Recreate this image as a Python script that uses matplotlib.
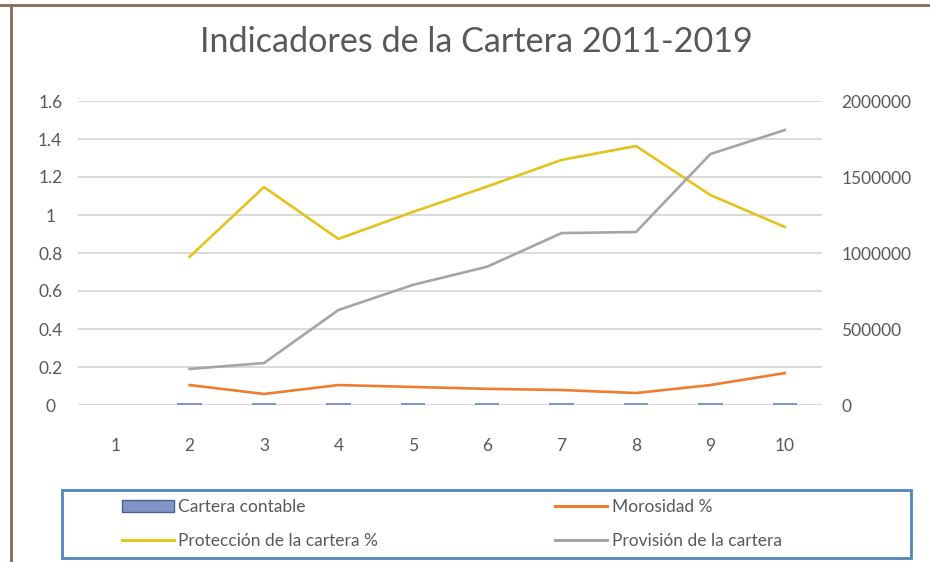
import matplotlib.pyplot as plt
import matplotlib.patches as mpatches
from matplotlib.lines import Line2D
from matplotlib.ticker import FuncFormatter
import numpy as np

plt.rcParams['font.family'] = ['Lato', 'DejaVu Sans']

periodos = [1, 2, 3, 4, 5, 6, 7, 8, 9, 10]
cartera_contable = [np.nan, 0.01, 0.01, 0.01, 0.01, 0.01, 0.01, 0.01, 0.01, 0.01]
morosidad = [np.nan, 0.105, 0.058, 0.105, 0.095, 0.085, 0.079, 0.063, 0.105, 0.168]
proteccion = [np.nan, 0.78, 1.147, 0.874, 1.016, 1.15, 1.29, 1.363, 1.105, 0.937]
provision = [np.nan, 237000, 276000, 625000, 790000, 910000, 1131000, 1138000, 1651000, 1809000]

gris_texto = '#595959'
c_barra = '#7f95c8'
c_moros = '#ED7D31'
c_prot = '#E3C41C'
c_prov = '#A5A5A5'

fig = plt.figure(figsize=(9.3, 5.62), dpi=100)
ax = fig.add_axes([78/930, 1-405/562, 744/930, 304/562])
ax2 = ax.twinx()

ax.bar(periodos, cartera_contable, width=0.33, color=c_barra, zorder=3)
ax.plot(periodos, morosidad, color=c_moros, lw=1.9, zorder=4)
ax.plot(periodos, proteccion, color=c_prot, lw=1.9, zorder=4)
ax2.plot(periodos, provision, color=c_prov, lw=1.9, zorder=4)

ax.set_xlim(0.5, 10.5)
ax.set_ylim(0, 1.6)
ax.set_yticks(np.arange(0, 1.61, 0.2))
ax.yaxis.set_major_formatter(FuncFormatter(lambda v, p: '0' if v == 0 else ('%g' % round(v, 1))))
ax2.set_ylim(0, 2000000)
ax2.set_yticks([0, 500000, 1000000, 1500000, 2000000])
ax2.yaxis.set_major_formatter(FuncFormatter(lambda v, p: '%d' % v))
ax.set_xticks(periodos)

ax.grid(axis='y', color='#D9D9D9', lw=1.4, zorder=0)
ax.set_axisbelow(True)
for a in (ax, ax2):
    for s in a.spines.values():
        s.set_visible(False)
ax.tick_params(axis='both', length=0, colors=gris_texto, labelsize=12.5)
ax.tick_params(axis='x', pad=24)
ax.tick_params(axis='y', pad=20)
for t in ax.get_yticklabels():
    t.set_horizontalalignment('center')
ax2.tick_params(axis='y', length=0, colors=gris_texto, labelsize=12.5, pad=14)
ax2.set_zorder(ax.get_zorder() + 1)

fig.text(476/930, 1-42/562, 'Indicadores de la Cartera 2011-2019', ha='center', va='center',
         fontsize=24.6, color=gris_texto)

# leyenda con recuadro propio
handles = [mpatches.Patch(facecolor=c_barra, edgecolor='#4a5f8f', lw=1.0),
           Line2D([], [], color=c_prot, lw=2.2),
           Line2D([], [], color=c_moros, lw=2.2),
           Line2D([], [], color=c_prov, lw=2.2)]
labels = ['Cartera contable', 'Protección de la cartera %', 'Morosidad %', 'Provisión de la cartera']
fig.legend(handles, labels, ncol=2, loc='upper left', bbox_to_anchor=(122/930, 1-499/562),
           frameon=False, fontsize=12.5, labelcolor=gris_texto, handlelength=3.0,
           handletextpad=0.25, columnspacing=10.2, labelspacing=1.05, borderpad=0,
           borderaxespad=0)
fig.add_artist(mpatches.Rectangle((62/930, 1-558/562), 849/930, 68/562, transform=fig.transFigure,
                                  fill=False, edgecolor='#4f88b8', lw=2.0))

# marco exterior
fig.add_artist(Line2D([0, 1], [1-5/562, 1-5/562], transform=fig.transFigure, color='#8b6a55', lw=2))
fig.add_artist(Line2D([11/930, 11/930], [0, 1-5/562], transform=fig.transFigure, color='#8b6a55', lw=2))

fig.savefig('out.png', dpi=100)
